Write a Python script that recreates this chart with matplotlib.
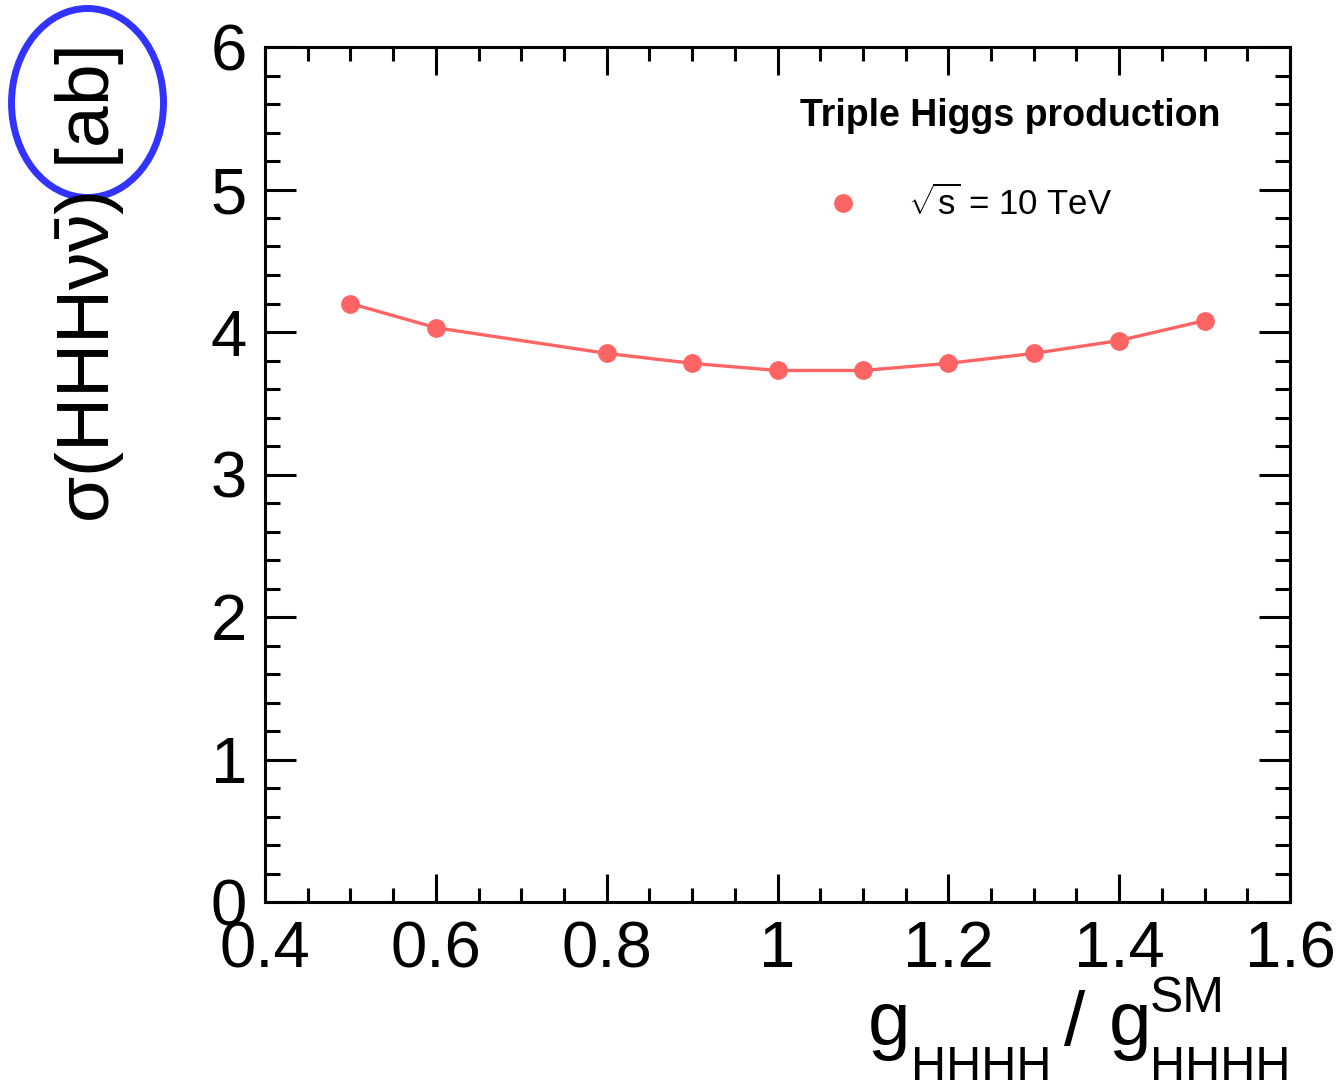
import numpy as np
import matplotlib
matplotlib.use("Agg")
import matplotlib.pyplot as plt
from matplotlib.patches import Ellipse
from matplotlib.ticker import MultipleLocator, FuncFormatter

plt.rcParams['font.family'] = ['Liberation Sans', 'DejaVu Sans']
plt.rcParams['mathtext.fontset'] = 'custom'
plt.rcParams['mathtext.rm'] = 'Liberation Sans'
plt.rcParams['mathtext.it'] = 'Liberation Sans'
plt.rcParams['mathtext.bf'] = 'Liberation Sans:bold'
plt.rcParams['mathtext.sf'] = 'Liberation Sans'

# coupling ratio and cross section
g_ratio = [0.5, 0.6, 0.8, 0.9, 1.0, 1.1, 1.2, 1.3, 1.4, 1.5]
xsec_ab = [4.20, 4.03, 3.85, 3.78, 3.73, 3.73, 3.78, 3.85, 3.94, 4.08]

legend_title = "Triple Higgs production"
series_label = r"$\sqrt{s}$ = 10 TeV"
line_color = "#ff6464"

fig = plt.figure(figsize=(13.36, 10.9), dpi=100)
W, H = 1336.0, 1090.0
ax = fig.add_axes([265 / W, 1 - 902 / H, 1025 / W, 855 / H])

ax.plot(g_ratio, xsec_ab, color=line_color, lw=2.4, marker='o', ms=12.5,
        mec=line_color, mfc=line_color)

ax.set_xlim(0.4, 1.6)
ax.set_ylim(0, 6)
ax.xaxis.set_major_locator(MultipleLocator(0.2))
ax.xaxis.set_minor_locator(MultipleLocator(0.05))
ax.yaxis.set_major_locator(MultipleLocator(1))
ax.yaxis.set_minor_locator(MultipleLocator(0.2))
fmt = FuncFormatter(lambda v, p: "%g" % round(v, 2))
ax.xaxis.set_major_formatter(fmt)
ax.yaxis.set_major_formatter(fmt)

for sp in ax.spines.values():
    sp.set_linewidth(2.2)
ax.tick_params(which='both', direction='in', top=True, right=True,
               width=2.2, labelsize=47, pad=13)
ax.tick_params(axis='x', which='major', length=20)
ax.tick_params(axis='x', which='minor', length=10)
ax.tick_params(axis='y', which='major', length=22)
ax.tick_params(axis='y', which='minor', length=11)


def px(x, y):
    return x / W, 1 - y / H


# x title, ROOT style, built from pieces so the subscripts sit low
fig.text(*px(868, 1045), "g", fontsize=55, ha='left', va='baseline')
fig.text(*px(911, 1080), "HHHH", fontsize=35, ha='left', va='baseline')
fig.text(*px(1064, 1045), "/", fontsize=55, ha='left', va='baseline')
fig.text(*px(1109, 1045), "g", fontsize=55, ha='left', va='baseline')
fig.text(*px(1150, 1012), "SM", fontsize=36, ha='left', va='baseline')
fig.text(*px(1150, 1080), "HHHH", fontsize=35, ha='left', va='baseline')

# y title aligned to the top of the axis
fig.text(*px(90, 47), r"$\sigma(HHH\nu\bar{\nu})$ [ab]",
         fontsize=54, rotation=90, ha='center', va='top')

# legend
ax.text(0.727, 0.919, legend_title, transform=ax.transAxes, fontsize=27,
        fontweight='bold', ha='center', va='center')
ax.plot([0.564], [0.817], transform=ax.transAxes, marker='o', ms=12.5,
        color=line_color, clip_on=False)
ax.text(0.627, 0.817, series_label, transform=ax.transAxes, fontsize=25,
        ha='left', va='center')

# blue highlight around the unit
fig.add_artist(Ellipse(px(87.5, 103), 152 / W, 189 / H,
                       transform=fig.transFigure, fill=False,
                       edgecolor='#3333ff', lw=5))

fig.savefig("out.png", dpi=100)
